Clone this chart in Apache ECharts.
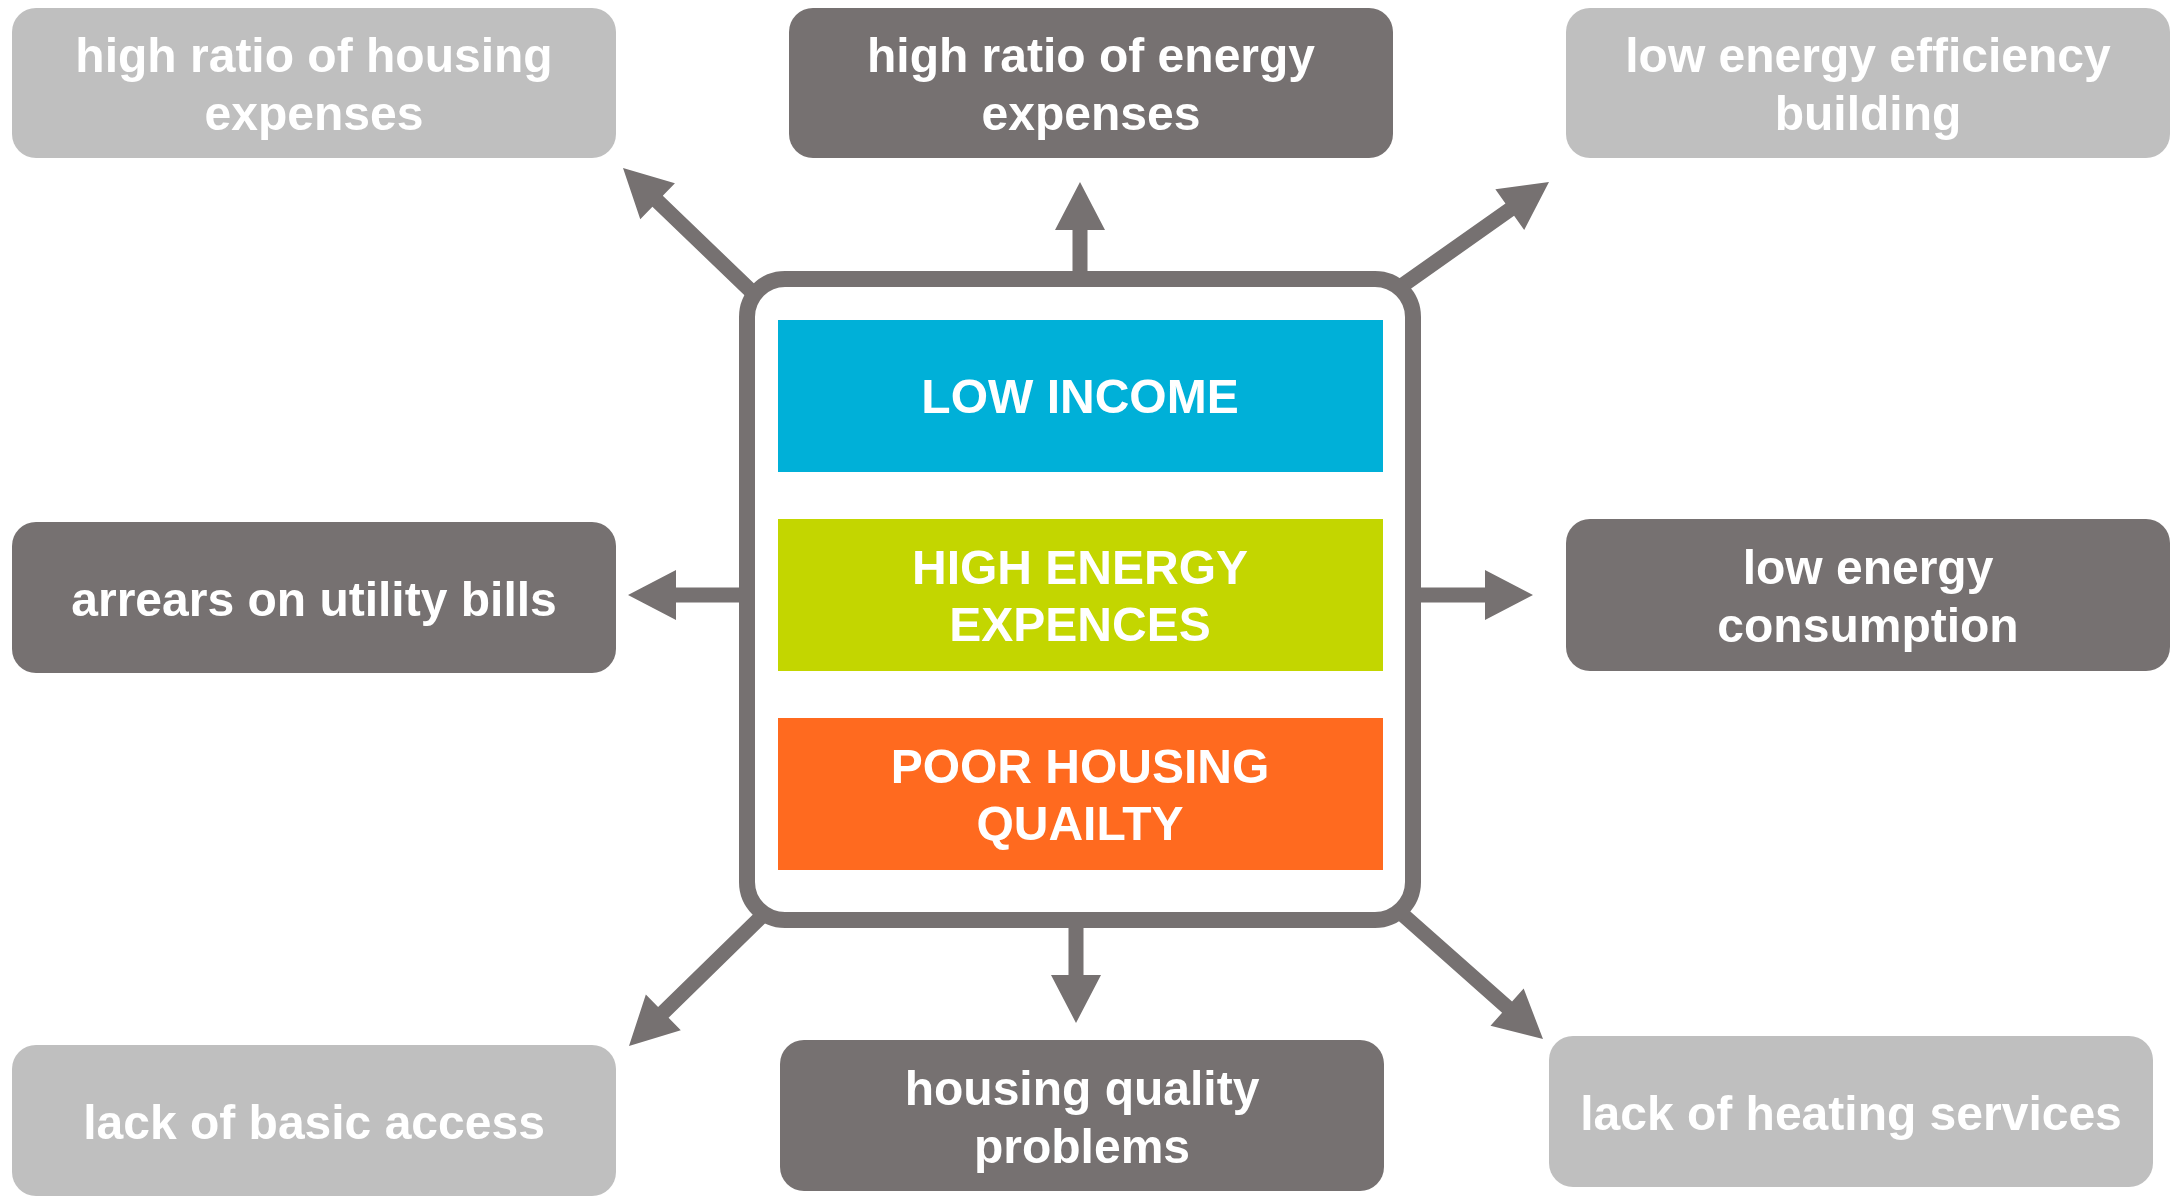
<!DOCTYPE html>
<html>
<head>
<meta charset="utf-8">
<title>Energy poverty</title>
<script src="https://cdn.jsdelivr.net/npm/echarts@6.0.0/dist/echarts.min.js"></script>
<style>
	html, body { margin: 0; padding: 0; background: #fff; }
	#main { width: 2177px; height: 1197px; }
</style>
</head>
<body>
<div id="main"></div>
<script type="text/javascript">

	// labels of the surrounding boxes (clockwise from top-left)
	var outerLabels = [
		'high ratio of housing\nexpenses',
		'high ratio of energy\nexpenses',
		'low energy efficiency\nbuilding',
		'low energy\nconsumption',
		'lack of heating services',
		'housing quality\nproblems',
		'lack of basic access',
		'arrears on utility bills'
	];
	// labels inside the central frame
	var coreLabels = ['LOW INCOME', 'HIGH ENERGY\nEXPENCES', 'POOR HOUSING\nQUAILTY'];

	var DARK = '#767171', LIGHT = '#bfbfbf';
	var FONT = 'bold 48px "Liberation Sans", Arial, sans-serif';

	// layout: [x, y, w, h, fill] for each outer box, same order as outerLabels
	var boxLayout = [
		[12, 8, 604, 150, LIGHT],
		[789, 8, 604, 150, DARK],
		[1566, 8, 604, 150, LIGHT],
		[1566, 519, 604, 152, DARK],
		[1549, 1036, 604, 151, LIGHT],
		[780, 1040, 604, 151, DARK],
		[12, 1045, 604, 151, LIGHT],
		[12, 522, 604, 151, DARK]
	];
	// arrows: [fromX, fromY, tipX, tipY]
	var arrowLayout = [
		[752, 292, 623, 168],
		[1080, 274, 1080, 182],
		[1403, 285, 1549, 182],
		[1415, 595, 1533, 595],
		[1402, 914, 1543, 1039],
		[1076, 924, 1076, 1023],
		[762, 916, 629, 1046],
		[745, 595, 628, 595]
	];
	var coreColors = ['#00b0d8', '#c3d600', '#ff6a1f'];
	var coreTop = [320, 519, 718];

	function arrowPoints(a, shaft, headLen, headHalf) {
		var dx = a[2] - a[0], dy = a[3] - a[1];
		var len = Math.sqrt(dx * dx + dy * dy);
		var ux = dx / len, uy = dy / len;
		var px = -uy, py = ux;
		var bx = a[2] - ux * headLen, by = a[3] - uy * headLen;
		var s = shaft / 2;
		return [
			[a[0] + px * s, a[1] + py * s],
			[bx + px * s, by + py * s],
			[bx + px * headHalf, by + py * headHalf],
			[a[2], a[3]],
			[bx - px * headHalf, by - py * headHalf],
			[bx - px * s, by - py * s],
			[a[0] - px * s, a[1] - py * s]
		];
	}

	var elements = [];

	arrowLayout.forEach(function (a) {
		elements.push({
			type: 'polygon',
			silent: true,
			shape: { points: arrowPoints(a, 15, 48, 25) },
			style: { fill: DARK }
		});
	});

	// central frame
	elements.push({
		type: 'rect',
		silent: true,
		shape: { x: 747, y: 279, width: 666, height: 641, r: 38 },
		style: { fill: '#fff', stroke: DARK, lineWidth: 16 }
	});

	coreLabels.forEach(function (t, i) {
		elements.push({
			type: 'rect',
			silent: true,
			shape: { x: 778, y: coreTop[i], width: 605, height: 152 },
			style: { fill: coreColors[i] }
		});
		elements.push({
			type: 'text',
			silent: true,
			x: 1080,
			y: coreTop[i] + 80,
			style: {
				text: t, fill: '#fff', font: FONT,
				align: 'center', verticalAlign: 'middle', lineHeight: 57
			}
		});
	});

	outerLabels.forEach(function (t, i) {
		var b = boxLayout[i];
		elements.push({
			type: 'rect',
			silent: true,
			shape: { x: b[0], y: b[1], width: b[2], height: b[3], r: 24 },
			style: { fill: b[4] }
		});
		elements.push({
			type: 'text',
			silent: true,
			x: b[0] + b[2] / 2,
			y: b[1] + b[3] / 2 + 5,
			style: {
				text: t, fill: '#fff', font: FONT,
				align: 'center', verticalAlign: 'middle', lineHeight: 58
			}
		});
	});

	var myChart = echarts.init(document.getElementById('main'));
	myChart.setOption({
		backgroundColor: '#fff',
		animation: false,
		graphic: { elements: elements }
	});
</script>
</body>
</html>
